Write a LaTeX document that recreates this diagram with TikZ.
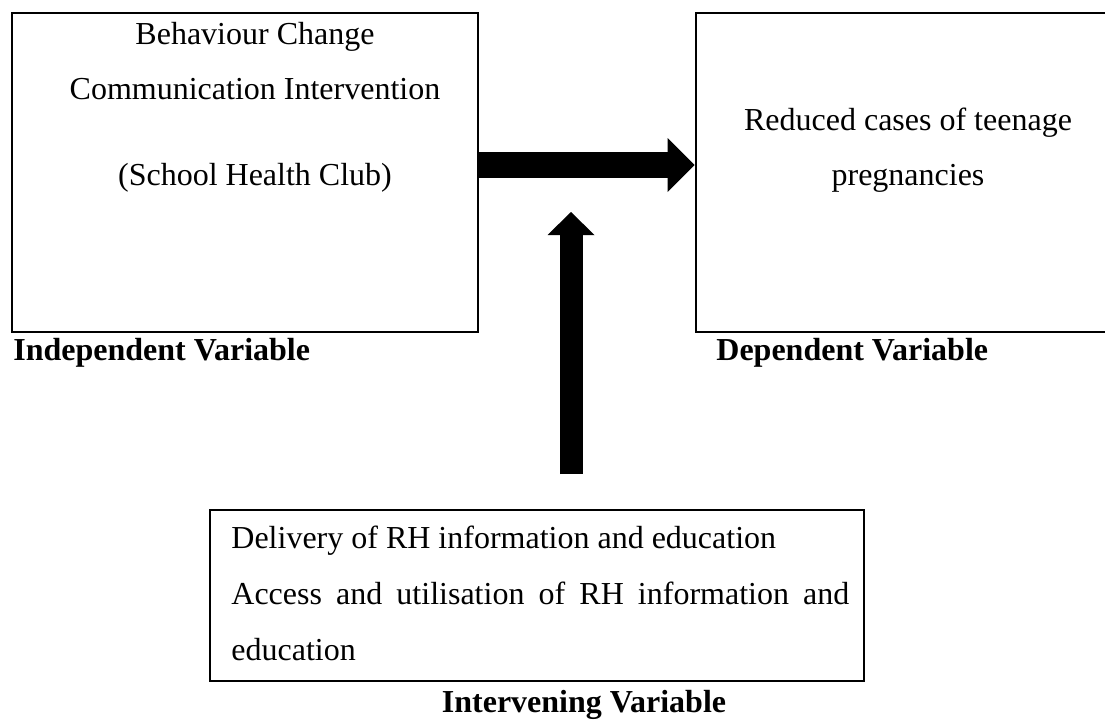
\documentclass[tikz,border=0pt]{standalone}
\usepackage{fontspec}
\setmainfont{Liberation Serif}
\usetikzlibrary{arrows.meta}

\tikzset{
    varbox/.style={draw, line width=1.3pt, inner sep=0pt},
    boxtext/.style={inner sep=0pt, font=\fontsize{16}{27.5}\selectfont},
    varlabel/.style={inner sep=0pt, font=\fontsize{16}{19}\selectfont\bfseries},
    fatarrow/.style={line width=13pt, -{Triangle[length=13.5pt, width=27pt, line width=0pt]}},
}

\begin{document}
\begin{tikzpicture}[x=0.5pt, y=-0.5pt]
    \useasboundingbox (0,0) rectangle (1105,719);

    % Independent variable (left box)
    \node[varbox, minimum width=233pt, minimum height=159.5pt] (indep) at (245,172.5) {};
    \node[boxtext, align=center, anchor=base] (indeptext) at (255,185)
        {Behaviour Change\\Communication Intervention\\[15.5pt](School Health Club)};
    \node[varlabel, anchor=base west] (indeplabel) at (13,360) {Independent Variable};

    % Dependent variable (right box, runs off the page)
    \node[varbox, minimum width=206pt, minimum height=159.5pt] (dep) at (902,172.5) {};
    \node[boxtext, align=center, anchor=base] (deptext) at (908,185)
        {Reduced cases of teenage\\pregnancies};
    \node[varlabel, anchor=base west] (deplabel) at (716,360) {Dependent Variable};

    % Intervening variable (bottom box)
    \node[varbox, minimum width=327pt, minimum height=85.5pt] (interv) at (537,595.5) {};
    \node[boxtext, align=left, anchor=base west, font=\fontsize{16}{28}\selectfont] (intervtext) at (231,660)
        {Delivery of RH information and education\\
         \makebox[309pt][s]{Access and utilisation of RH information and}\\
         education};
    \node[varlabel, anchor=base] (intervlabel) at (584,712) {Intervening Variable};

    % Block arrows
    \draw[fatarrow] ([yshift=3.75pt]indep.east) -- ([yshift=3.75pt]dep.west);

    \coordinate (upfoot) at (571,474);
    \coordinate (uphead) at (571,212);
    \draw[line width=11.5pt, -{Triangle[length=11.5pt, width=23.5pt, line width=0pt]}] (upfoot) -- (uphead);

\end{tikzpicture}
\end{document}
